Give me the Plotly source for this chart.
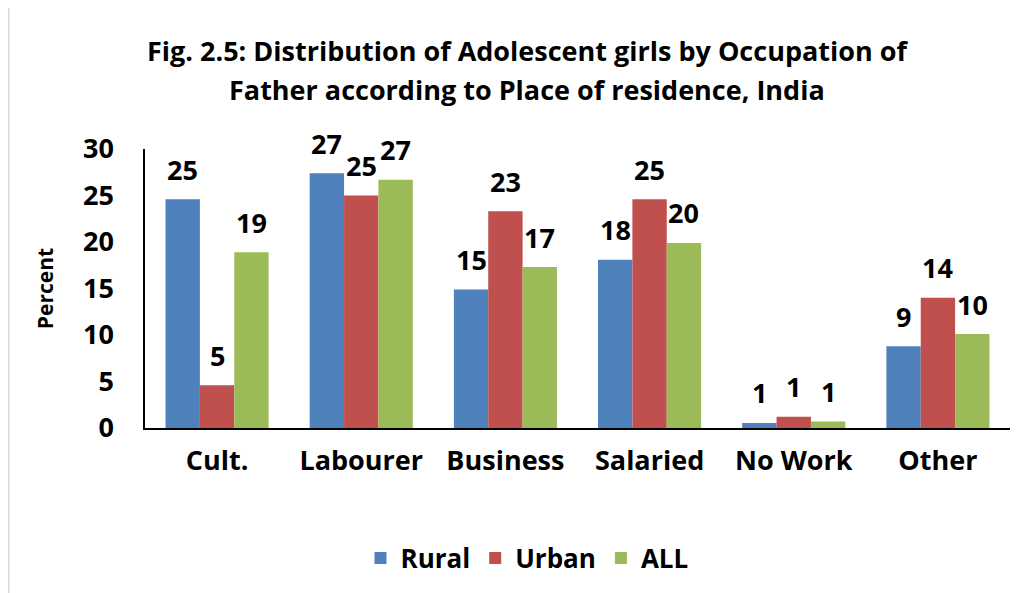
import plotly.graph_objects as go

categories = ["Cult.", "Labourer", "Business", "Salaried", "No Work", "Other"]
rural = [24.6, 27.4, 14.9, 18.1, 0.55, 8.8]
urban = [4.6, 25.0, 23.3, 24.6, 1.2, 14.0]
all_ = [18.9, 26.7, 17.3, 19.9, 0.7, 10.1]
series_names = ["Rural", "Urban", "ALL"]
colors = ["#4F81BD", "#C0504D", "#9BBB59"]
yticks = [0, 5, 10, 15, 20, 25, 30]
title_lines = ["Fig. 2.5: Distribution of Adolescent girls by Occupation of",
               "Father according to Place of residence, India"]

FONT = "'Open Sans', Lato, sans-serif"
OFF = 8  # page body margin in the browser
W, H = 1035 - OFF, 593 - OFF
ML, MR, MT, MB = 145 - OFF, 25, 149 - OFF, 165
BARGAP = 0.285
plot_w = W - ML - MR
plot_h = H - MT - MB
bar_px = plot_w / len(categories) * (1 - BARGAP) / 3


def py(page_y):
    """page pixel y -> paper y"""
    return (MT + plot_h - (page_y - OFF)) / plot_h


def px(page_x):
    return (page_x - OFF - ML) / plot_w


fig = go.Figure()
for i, (name, vals, col) in enumerate(zip(series_names, [rural, urban, all_], colors)):
    fig.add_trace(go.Bar(x=categories, y=vals, name=name, marker_color=col,
                         marker_line_width=0))
    for c, v in zip(categories, vals):
        fig.add_annotation(x=c, y=v, xref="x", yref="y", text=f"<b>{round(v):d}</b>",
                           showarrow=False, xshift=(i - 1) * bar_px, yshift=30,
                           yanchor="middle", xanchor="center",
                           font=dict(family=FONT, size=27, color="black"))

for line, yc in zip(title_lines, [50, 90]):
    fig.add_annotation(text=f"<b>{line}</b>", xref="paper", yref="paper",
                       x=px(527), y=py(yc), xanchor="center", yanchor="middle",
                       showarrow=False, font=dict(family=FONT, size=27, color="black"))

fig.update_layout(
    width=W, height=H,
    paper_bgcolor="white", plot_bgcolor="white",
    barmode="group", bargap=BARGAP, bargroupgap=0,
    margin=dict(l=ML, r=MR, t=MT, b=MB, autoexpand=False),
    font=dict(family=FONT, color="black"),
    legend=dict(
        orientation="h", x=px(527), xanchor="center",
        y=py(558), yanchor="middle",
        font=dict(family=FONT, size=26, color="black", weight="bold"),
    ),
    showlegend=True,
)
fig.update_xaxes(
    showline=True, linecolor="black", linewidth=1.5, showgrid=False, automargin=False,
    ticks="", ticklabelstandoff=8,
    tickfont=dict(family=FONT, size=27, color="black", weight="bold"),
)
fig.update_yaxes(
    range=[0, 30], tickvals=yticks, showline=True, linecolor="black", linewidth=1.5,
    showgrid=False, zeroline=False, ticks="", automargin=False, ticklabelstandoff=24,
    tickfont=dict(family=FONT, size=27, color="black", weight="bold"),
    title=dict(text="<b>Percent</b>", font=dict(family=FONT, size=21, color="black"), standoff=24),
)
# chart-area border (left edge visible in the reference)
bx = (0.5 - ML) / plot_w
fig.add_shape(type="line", xref="paper", yref="paper", x0=bx, x1=bx,
              y0=-MB / plot_h, y1=(plot_h + MT) / plot_h,
              line=dict(color="#D9D9D9", width=2), layer="below")

fig.write_html("out.html")
